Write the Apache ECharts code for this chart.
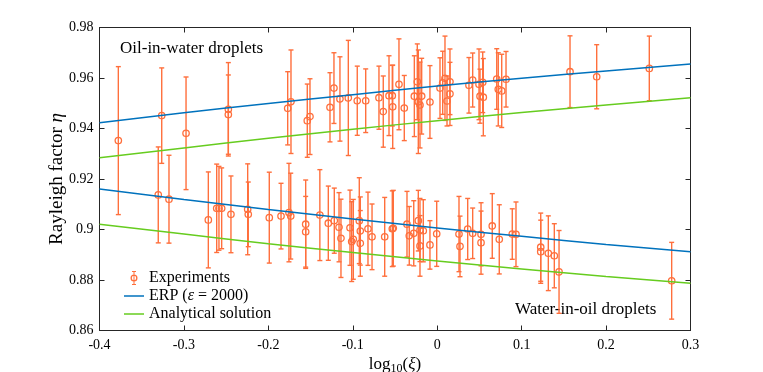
<!DOCTYPE html>
<html>
<head>
<meta charset="utf-8">
<script src="https://cdn.jsdelivr.net/npm/echarts@6/dist/echarts.min.js"></script>
<style>
  html, body { margin: 0; padding: 0; background: #fff; }
  #chart { width: 763px; height: 372px; }
</style>
</head>
<body>
<div id="chart"></div>
<script>
// oil-in-water droplets (upper cluster): x = log10(xi), y = eta, err = half bar
var upperX = [-0.3777, -0.3263, -0.2975, -0.2474, -0.2474, -0.1771, -0.1732, -0.1539, -0.1507, -0.127,
  -0.1223, -0.1152, -0.1053, -0.0947, -0.0847, -0.069, -0.0639, -0.0571, -0.0532, -0.0527,
  -0.0453, -0.039, -0.0271, -0.0236, -0.0224, -0.0204, -0.0184, -0.0086, 0.0033, 0.0065,
  0.0092, 0.0116, 0.0151, 0.0151, 0.0376, 0.042, 0.0495, 0.0507, 0.0546, 0.0539,
  0.0705, 0.0723, 0.0764, 0.0815, 0.1573, 0.1889, 0.2512];
var upperY = [0.9352, 0.9451, 0.9381, 0.9476, 0.9455, 0.948, 0.9506, 0.9431, 0.9447, 0.9484,
  0.956, 0.9517, 0.9521, 0.951, 0.951, 0.9522, 0.9467, 0.953, 0.953, 0.9486,
  0.9575, 0.9481, 0.9528, 0.9585, 0.9506, 0.9493, 0.9528, 0.9505, 0.956, 0.9581,
  0.9599, 0.9509, 0.9537, 0.9585, 0.9571, 0.9592, 0.9575, 0.9528, 0.9524, 0.9583,
  0.9596, 0.9555, 0.9549, 0.9595, 0.9625, 0.9605, 0.9638];
var upperErr = [0.0293, 0.0189, 0.0223, 0.0185, 0.0157, 0.0145, 0.0205, 0.0145, 0.015, 0.0137,
  0.014, 0.0167, 0.0228, 0.0137, 0.0126, 0.0125, 0.0141, 0.0158, 0.012, 0.0165,
  0.018, 0.0129, 0.016, 0.015, 0.0205, 0.017, 0.015, 0.0144, 0.012, 0.0125,
  0.0167, 0.0099, 0.0125, 0.013, 0.011, 0.0107, 0.014, 0.0107, 0.0153, 0.012,
  0.012, 0.0145, 0.0145, 0.011, 0.0142, 0.0127, 0.0128];

// water-in-oil droplets (lower cluster)
var lowerX = [-0.3304, -0.3177, -0.2711, -0.2612, -0.2585, -0.2553, -0.2443, -0.2245, -0.2238, -0.1989,
  -0.185, -0.1756, -0.1735, -0.1558, -0.1558, -0.139, -0.129, -0.1219, -0.1163, -0.114,
  -0.1033, -0.1013, -0.0994, -0.0923, -0.0911, -0.0911, -0.082, -0.0772, -0.0622, -0.0532,
  -0.052, -0.0358, -0.0331, -0.0278, -0.0224, -0.0204, -0.0204, -0.0165, -0.0086, -0.0006,
  0.0258, 0.027, 0.0361, 0.042, 0.0519, 0.0519, 0.0652, 0.0735, 0.0889, 0.0933,
  0.1226, 0.1226, 0.1316, 0.1387, 0.1443, 0.2777];
var lowerY = [0.9137, 0.912, 0.9038, 0.9084, 0.9084, 0.9084, 0.906, 0.908, 0.906, 0.9047,
  0.9053, 0.9067, 0.9053, 0.9021, 0.8991, 0.9057, 0.9025, 0.9035, 0.9009, 0.8965,
  0.9007, 0.8952, 0.8961, 0.9035, 0.8994, 0.8945, 0.9003, 0.8971, 0.8971, 0.9003,
  0.9005, 0.9021, 0.8975, 0.8985, 0.9035, 0.8998, 0.8935, 0.8995, 0.8939, 0.8983,
  0.8982, 0.8933, 0.9002, 0.8985, 0.8981, 0.8948, 0.9014, 0.8961, 0.8982, 0.8981,
  0.893, 0.8912, 0.8906, 0.8896, 0.8832, 0.8797];
var lowerErr = [0.019, 0.0174, 0.019, 0.0175, 0.0166, 0.016, 0.0152, 0.018, 0.0128, 0.018,
  0.013, 0.0195, 0.017, 0.0175, 0.014, 0.018, 0.0147, 0.0129, 0.0137, 0.0155,
  0.0149, 0.0158, 0.0158, 0.017, 0.0135, 0.013, 0.0145, 0.013, 0.0156, 0.015,
  0.015, 0.013, 0.0116, 0.0129, 0.012, 0.0125, 0.012, 0.0123, 0.0096, 0.0129,
  0.0149, 0.012, 0.0121, 0.01, 0.0125, 0.0125, 0.0128, 0.0137, 0.01, 0.0128,
  0.0135, 0.0125, 0.0148, 0.0127, 0.0164, 0.0152];

// model curves
var curveX = [-0.4, -0.3, -0.2, -0.1, 0, 0.1, 0.2, 0.3];
var erpUpper = [0.9423, 0.9462, 0.9499, 0.9534, 0.9568, 0.9599, 0.9628, 0.9655];
var anaUpper = [0.9284, 0.9323, 0.9361, 0.9397, 0.9431, 0.9463, 0.9493, 0.9522];
var erpLower = [0.916, 0.9119, 0.9079, 0.9042, 0.9006, 0.8973, 0.8941, 0.8912];
var anaLower = [0.9021, 0.8982, 0.8944, 0.8909, 0.8875, 0.8844, 0.8814, 0.8787];

var xTicks = { min: -0.4, max: 0.3, step: 0.1 };
var yTicks = { min: 0.86, max: 0.98, step: 0.02 };

var ORANGE = '#FF6F3C';
var BLUE = '#0072BD';
var GREEN = '#66CC1F';
var FONT = 'Liberation Serif';

function zip(xs, ys, es) {
  return xs.map(function (x, i) { return es ? [x, ys[i], es[i]] : [x, ys[i]]; });
}

var expData = zip(upperX, upperY, upperErr).concat(zip(lowerX, lowerY, lowerErr));

function renderErrorBar(params, api) {
  var x = api.value(0), y = api.value(1), e = api.value(2);
  var lo = api.coord([x, y - e]);
  var hi = api.coord([x, y + e]);
  var c = api.coord([x, y]);
  var cap = 2.5;
  var st = { stroke: ORANGE, lineWidth: 1.4, fill: null };
  return {
    type: 'group',
    children: [
      { type: 'line', shape: { x1: lo[0], y1: lo[1], x2: hi[0], y2: hi[1] }, style: st },
      { type: 'line', shape: { x1: lo[0] - cap, y1: lo[1], x2: lo[0] + cap, y2: lo[1] }, style: st },
      { type: 'line', shape: { x1: hi[0] - cap, y1: hi[1], x2: hi[0] + cap, y2: hi[1] }, style: st },
      { type: 'circle', shape: { cx: c[0], cy: c[1], r: 3.2 }, style: { stroke: ORANGE, lineWidth: 1.3, fill: 'rgba(255,255,255,0)' } }
    ]
  };
}

var expIcon = 'path://M10.5,0 L11.5,0 L11.5,14 L10.5,14 Z M9,0 L13,0 L13,1 L9,1 Z M9,13 L13,13 L13,14 L9,14 Z ' +
  'M7.5,7 A3.5,3.5 0 1 1 14.5,7 A3.5,3.5 0 1 1 7.5,7 Z M8.8,7 A2.2,2.2 0 1 0 13.2,7 A2.2,2.2 0 1 0 8.8,7 Z';
var lineIcon = 'path://M0,0 L20,0 L20,1.5 L0,1.5 Z';

function lineSeries(name, ys, color) {
  return {
    name: name,
    type: 'line',
    data: zip(curveX, ys),
    smooth: true,
    symbol: 'none',
    z: 5,
    lineStyle: { color: color, width: 1.5 },
    itemStyle: { color: color }
  };
}

var axisCommon = {
  axisLine: { show: true, onZero: false, lineStyle: { color: '#262626', width: 1 } },
  axisTick: { show: true, inside: true, length: 5, lineStyle: { color: '#262626' } },
  splitLine: { show: false }
};

var chart = echarts.init(document.getElementById('chart'));
chart.setOption({
  animation: false,
  textStyle: { fontFamily: FONT },
  grid: { left: 99.5, right: 72.5, top: 27.5, bottom: 41.5, outerBoundsMode: 'none', containLabel: false },
  legend: {
    left: 119,
    top: 265,
    orient: 'vertical',
    itemWidth: 20,
    itemHeight: 14,
    itemGap: 2,
    textStyle: { fontFamily: FONT, fontSize: 16, color: '#000', rich: { i: { fontStyle: 'italic', fontFamily: FONT, fontSize: 16 } } },
    formatter: function (name) {
      return name === 'ERP' ? 'ERP ({i|ε} = 2000)' : name;
    },
    data: [
      { name: 'Experiments', icon: expIcon },
      { name: 'ERP', icon: lineIcon },
      { name: 'Analytical solution', icon: lineIcon }
    ]
  },
  xAxis: [
    Object.assign({
      type: 'value', position: 'bottom',
      min: xTicks.min, max: xTicks.max, interval: xTicks.step,
      name: 'log{sub|10}({i|ξ})',
      nameLocation: 'middle',
      nameGap: 25,
      nameMoveOverlap: false,
      nameTextStyle: {
        fontFamily: FONT, fontSize: 17, color: '#000',
        rich: { sub: { fontSize: 12, verticalAlign: 'bottom', padding: [7, 0, 0, 0], fontFamily: FONT }, i: { fontStyle: 'italic', fontSize: 17, fontFamily: FONT } }
      },
      axisLabel: {
        color: '#000', fontSize: 14, fontFamily: FONT, margin: 8,
        formatter: function (v) { return String(+v.toFixed(1)); }
      }
    }, axisCommon),
    Object.assign({
      type: 'value', position: 'top',
      min: xTicks.min, max: xTicks.max, interval: xTicks.step,
      axisLabel: { show: false }
    }, axisCommon)
  ],
  yAxis: [
    Object.assign({
      type: 'value', position: 'left',
      min: yTicks.min, max: yTicks.max, interval: yTicks.step,
      name: 'Rayleigh factor {i|η}',
      nameLocation: 'middle',
      nameGap: 33,
      nameMoveOverlap: false,
      nameRotate: 90,
      nameTextStyle: {
        fontFamily: FONT, fontSize: 19, color: '#000',
        rich: { i: { fontStyle: 'italic', fontSize: 19, fontFamily: FONT } }
      },
      axisLabel: {
        color: '#000', fontSize: 14, fontFamily: FONT, margin: 6,
        formatter: function (v) { return String(+v.toFixed(2)); }
      }
    }, axisCommon),
    Object.assign({
      type: 'value', position: 'right',
      min: yTicks.min, max: yTicks.max, interval: yTicks.step,
      axisLabel: { show: false }
    }, axisCommon)
  ],
  graphic: [
    { type: 'text', x: 120, y: 49, style: { text: 'Oil-in-water droplets', font: '17px "' + FONT + '"', fill: '#000', verticalAlign: 'middle' } },
    { type: 'text', x: 515, y: 309.5, style: { text: 'Water-in-oil droplets', font: '17px "' + FONT + '"', fill: '#000', verticalAlign: 'middle' } }
  ],
  series: [
    {
      name: 'Experiments',
      type: 'custom',
      renderItem: renderErrorBar,
      data: expData,
      itemStyle: { color: ORANGE },
      encode: { x: 0, y: 1 },
      z: 2
    },
    lineSeries('ERP', erpUpper, BLUE),
    lineSeries('ERP', erpLower, BLUE),
    lineSeries('Analytical solution', anaUpper, GREEN),
    lineSeries('Analytical solution', anaLower, GREEN)
  ]
});
</script>
</body>
</html>
